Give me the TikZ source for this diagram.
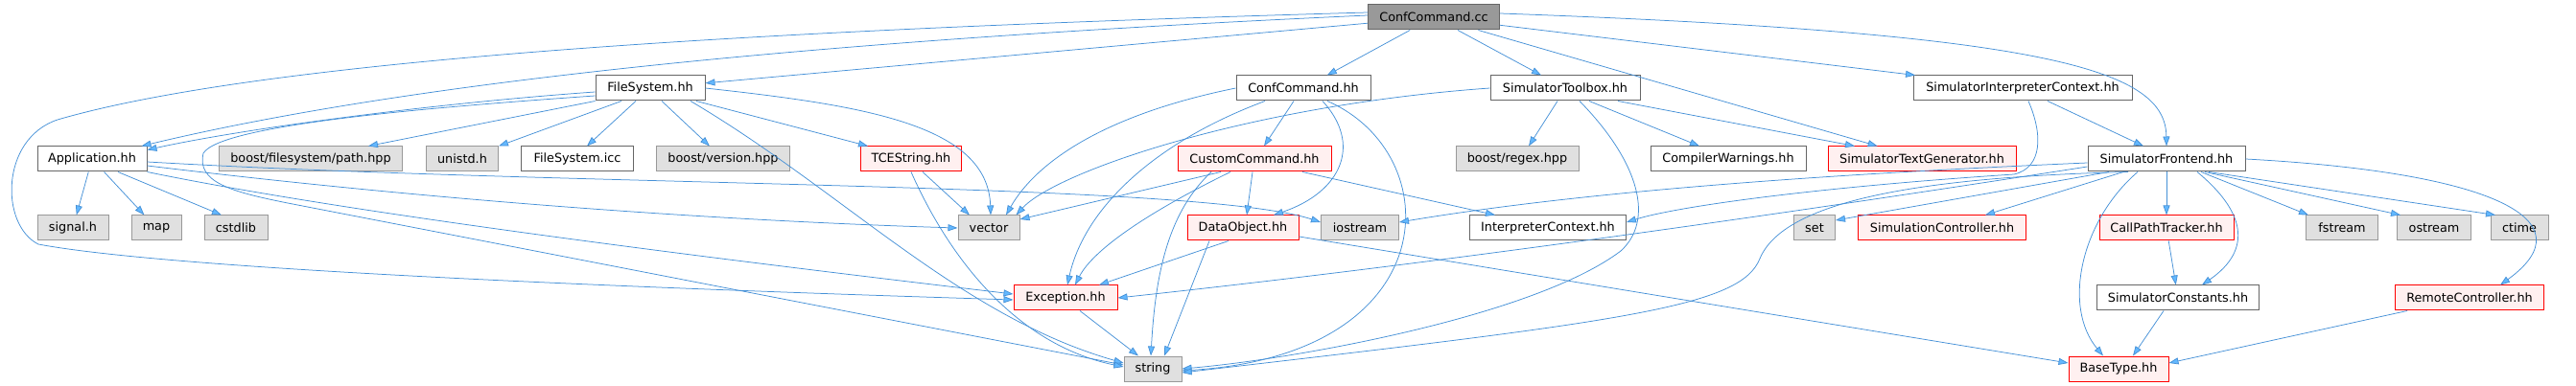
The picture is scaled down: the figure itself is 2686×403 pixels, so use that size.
\documentclass[tikz,border=0pt]{standalone}
\usepackage{fontspec}
\setmainfont{DejaVu Sans}
\usepackage{xcolor}
\definecolor{inclblue}{RGB}{70,145,215}
\definecolor{tipblue}{RGB}{99,184,255}
\definecolor{boxgray}{RGB}{102,102,102}
\definecolor{extgray}{RGB}{153,153,153}
\definecolor{extfill}{RGB}{224,224,224}
\definecolor{redfill}{RGB}{255,240,240}
\usepackage{tikz}
\usetikzlibrary{arrows.meta}

\begin{document}
\begin{tikzpicture}[x=1pt, y=-1pt,
  every node/.style={font=\fontsize{12.8}{14}\selectfont, inner sep=0pt, minimum height=26pt},
  file/.style={draw=boxgray, line width=1pt, fill=white},
  rootfile/.style={draw=boxgray, line width=1pt, fill=extgray},
  extfile/.style={draw=extgray, line width=1pt, fill=extfill},
  redfile/.style={draw=red, line width=1pt, fill=redfill},
  incl/.style={draw=inclblue, line width=0.75pt, -{Triangle[length=10pt, width=7pt, fill=tipblue]}}]
  \useasboundingbox (0,0) rectangle (2686,403);

  % row 0
  \node[rootfile, minimum width=137pt] (cc) at (1495,18) {ConfCommand.cc};
  % row 1
  \node[file, minimum width=114pt] (fsys) at (678,92) {FileSystem.hh};
  \node[file, minimum width=140pt] (cchh) at (1359,92) {ConfCommand.hh};
  \node[file, minimum width=156pt] (toolbox) at (1632,92) {SimulatorToolbox.hh};
  \node[file, minimum width=228pt] (sic) at (2109,92) {SimulatorInterpreterContext.hh};
  % row 2
  \node[file, minimum width=114pt] (app) at (96,166) {Application.hh};
  \node[extfile, minimum width=191pt] (bfpath) at (324,166) {boost/filesystem/path.hpp};
  \node[extfile, minimum width=75pt] (unistd) at (482,166) {unistd.h};
  \node[file, minimum width=117pt] (fsicc) at (602,166) {FileSystem.icc};
  \node[extfile, minimum width=139pt] (bver) at (754,166) {boost/version.hpp};
  \node[redfile, minimum width=105pt] (tcestr) at (950,166) {TCEString.hh};
  \node[redfile, minimum width=160pt] (custom) at (1308,166) {CustomCommand.hh};
  \node[extfile, minimum width=128pt] (bregex) at (1582,166) {boost/regex.hpp};
  \node[file, minimum width=162pt] (cwarn) at (1802,166) {CompilerWarnings.hh};
  \node[redfile, minimum width=196pt] (stg) at (2004,166) {SimulatorTextGenerator.hh};
  \node[file, minimum width=164pt] (sfront) at (2259,166) {SimulatorFrontend.hh};
  % row 3
  \node[extfile, minimum width=74pt] (signal) at (76,238) {signal.h};
  \node[extfile, minimum width=52pt] (map) at (163,238) {map};
  \node[extfile, minimum width=66pt] (cstdlib) at (246,238) {cstdlib};
  \node[extfile, minimum width=64pt] (vector) at (1031,238) {vector};
  \node[redfile, minimum width=116pt] (dobj) at (1296,238) {DataObject.hh};
  \node[extfile, minimum width=81pt] (iostream) at (1418,238) {iostream};
  \node[file, minimum width=163pt] (ictx) at (1614,238) {InterpreterContext.hh};
  \node[extfile, minimum width=43pt] (set) at (1892,238) {set};
  \node[redfile, minimum width=175pt] (simctrl) at (2025,238) {SimulationController.hh};
  \node[redfile, minimum width=140pt] (cpt) at (2259,238) {CallPathTracker.hh};
  \node[extfile, minimum width=75pt] (fstream) at (2442,238) {fstream};
  \node[extfile, minimum width=77pt] (ostream) at (2538,238) {ostream};
  \node[extfile, minimum width=60pt] (ctime) at (2627,238) {ctime};
  % row 4
  \node[redfile, minimum width=108pt] (exc) at (1111,311) {Exception.hh};
  \node[file, minimum width=169pt] (simconst) at (2271,311) {SimulatorConstants.hh};
  \node[redfile, minimum width=155pt] (remote) at (2575,311) {RemoteController.hh};
  % row 5
  \node[extfile, minimum width=60pt] (string) at (1202,385) {string};
  \node[redfile, minimum width=104pt] (btype) at (2209,385) {BaseType.hh};

  % ConfCommand.cc
  \draw[incl] (cc) -- (cchh);
  \draw[incl] (cc) -- (toolbox);
  \draw[incl] (cc) -- (stg);
  \draw[incl] (cc) -- (sic);
  \draw[incl] ([yshift=4pt]cc.east) .. controls (2150,35) and (2258,75) .. (sfront.north);
  \draw[incl] (cc) -- (fsys);
  \draw[incl] ([yshift=2pt]cc.west) .. controls (900,40) and (450,80) .. ([xshift=-6pt]app.north east);
  \draw[incl] ([yshift=5pt]cc.west) .. controls (900,28) and (300,55) .. (60,125)
    .. controls (0,145) and (0,235) .. (40,255)
    .. controls (200,285) and (800,305) .. ([yshift=-2pt]exc.west);

  % FileSystem.hh
  \draw[incl] ([yshift=-4pt]fsys.west) .. controls (450,108) and (250,135) .. ([yshift=-4pt]app.north east);
  \draw[incl] ([yshift=-8pt]fsys.west) .. controls (450,112) and (230,130) .. (212,160)
    .. controls (205,190) and (240,200) .. (300,212) -- ([yshift=4pt]string.west);
  \draw[incl] (fsys.south west) -- ([xshift=60pt]bfpath.north);
  \draw[incl] ([xshift=-30pt]fsys.south) -- (unistd.north east);
  \draw[incl] ([xshift=-15pt]fsys.south) -- ([xshift=10pt]fsicc.north);
  \draw[incl] ([xshift=12pt]fsys.south) -- ([xshift=-14pt]bver.north);
  \draw[incl] ([xshift=48pt]fsys.south) -- ([xshift=-45pt]tcestr.north);
  \draw[incl] (fsys.east) .. controls (900,110) and (1030,130) .. ([xshift=2pt]vector.north);
  \draw[incl] ([xshift=42pt]fsys.south) .. controls (880,200) and (1000,330) .. ([yshift=6pt]string.west);

  % Application.hh
  \draw[incl] (app) -- (signal);
  \draw[incl] (app) -- (map);
  \draw[incl] ([xshift=27pt]app.south) -- ([xshift=-15pt]cstdlib.north);
  \draw[incl] ([yshift=-3pt]app.east) .. controls (600,195) and (1250,190) .. ([yshift=6pt]iostream.west);
  \draw[incl] ([yshift=-7pt]app.east) .. controls (500,215) and (800,232) .. (vector.west);
  \draw[incl] (app.south east) .. controls (350,220) and (700,265) .. ([yshift=4pt]exc.west);

  % TCEString.hh
  \draw[incl] ([xshift=12pt]tcestr.south) -- ([xshift=-20pt]vector.north);
  \draw[incl] (tcestr.south) .. controls (990,270) and (1060,360) .. ([yshift=2pt]string.west);

  % ConfCommand.hh
  \draw[incl] (cchh.west) .. controls (1150,120) and (1080,170) .. ([xshift=18pt]vector.north);
  \draw[incl] ([xshift=-40pt]cchh.south) .. controls (1200,150) and (1130,220) .. ([xshift=2pt]exc.north);
  \draw[incl] ([xshift=-10pt]cchh.south) -- ([xshift=10pt]custom.north);
  \draw[incl] ([xshift=20pt]cchh.south) .. controls (1420,150) and (1400,200) .. ([xshift=32pt]dobj.north);
  \draw[incl] ([xshift=25pt]cchh.south) .. controls (1510,160) and (1510,370) .. ([yshift=-2pt]string.east);

  % SimulatorToolbox.hh
  \draw[incl] (toolbox.west) .. controls (1300,110) and (1100,180) .. ([xshift=-4pt]vector.north east);
  \draw[incl] ([xshift=-8pt]toolbox.south) -- ([xshift=12pt]bregex.north);
  \draw[incl] ([xshift=25pt]toolbox.south) -- ([xshift=-30pt]cwarn.north);
  \draw[incl] ([xshift=55pt]toolbox.south) -- ([xshift=-70pt]stg.north);
  \draw[incl] ([xshift=15pt]toolbox.south) .. controls (1710,170) and (1725,230) .. (1690,262)
    .. controls (1600,330) and (1350,375) .. (string.east);

  % SimulatorInterpreterContext.hh
  \draw[incl] ([xshift=26pt]sic.south) -- ([xshift=-24pt]sfront.north);
  \draw[incl] ([xshift=6pt]sic.south) .. controls (2130,140) and (2130,175) .. (2100,182)
    .. controls (1900,195) and (1750,215) .. ([yshift=6pt]ictx.east);

  % SimulatorFrontend.hh
  \draw[incl] ([yshift=-4pt]sfront.west) .. controls (1900,182) and (1650,200) .. ([yshift=6pt]iostream.east);
  \draw[incl] ([yshift=-8pt]sfront.west) .. controls (1850,225) and (1500,275) .. (exc.east);
  \draw[incl] ([xshift=-40pt]sfront.south) .. controls (2000,185) and (1860,210) .. (1835,270)
    .. controls (1815,320) and (1700,335) .. ([yshift=-4pt]string.east);
  \draw[incl] ([xshift=-60pt]sfront.south) -- ([yshift=8pt]set.east);
  \draw[incl] ([xshift=-45pt]sfront.south) -- ([xshift=45pt]simctrl.north);
  \draw[incl] ([xshift=-30pt]sfront.south) .. controls (2170,230) and (2150,320) .. ([xshift=-16pt]btype.north);
  \draw[incl] (sfront) -- (cpt);
  \draw[incl] ([xshift=32pt]sfront.south) .. controls (2340,220) and (2350,260) .. ([xshift=25pt]simconst.north);
  \draw[incl] ([xshift=36pt]sfront.south) -- ([xshift=-35pt]fstream.north);
  \draw[incl] ([xshift=40pt]sfront.south) -- ([xshift=-35pt]ostream.north);
  \draw[incl] ([xshift=44pt]sfront.south) -- ([xshift=-25pt]ctime.north);
  \draw[incl] (sfront.east) .. controls (2600,180) and (2700,230) .. ([xshift=32pt]remote.north);

  % CustomCommand.hh
  \draw[incl] ([xshift=-35pt]custom.south) -- ([yshift=9pt]vector.east);
  \draw[incl] ([xshift=-25pt]custom.south) .. controls (1200,220) and (1140,260) .. ([xshift=10pt]exc.north);
  \draw[incl] ([xshift=-45pt]custom.south) .. controls (1220,220) and (1205,280) .. ([xshift=-2pt]string.north);
  \draw[incl] ([xshift=-2pt]custom.south) -- ([xshift=4pt]dobj.north);
  \draw[incl] ([xshift=50pt]custom.south) -- ([xshift=-55pt]ictx.north);

  % DataObject.hh
  \draw[incl] ([xshift=-15pt]dobj.south) -- ([xshift=35pt]exc.north);
  \draw[incl] ([xshift=-35pt]dobj.south) -- ([xshift=12pt]string.north);
  \draw[incl] ([yshift=-9pt]dobj.east) -- ([yshift=6pt]btype.west);

  % the rest
  \draw[incl] ([xshift=15pt]exc.south) -- ([xshift=-15pt]string.north);
  \draw[incl] (cpt) -- (simconst);
  \draw[incl] ([xshift=-15pt]simconst.south) -- ([xshift=15pt]btype.north);
  \draw[incl] ([xshift=-65pt]remote.south) -- ([yshift=6pt]btype.east);
\end{tikzpicture}
\end{document}
